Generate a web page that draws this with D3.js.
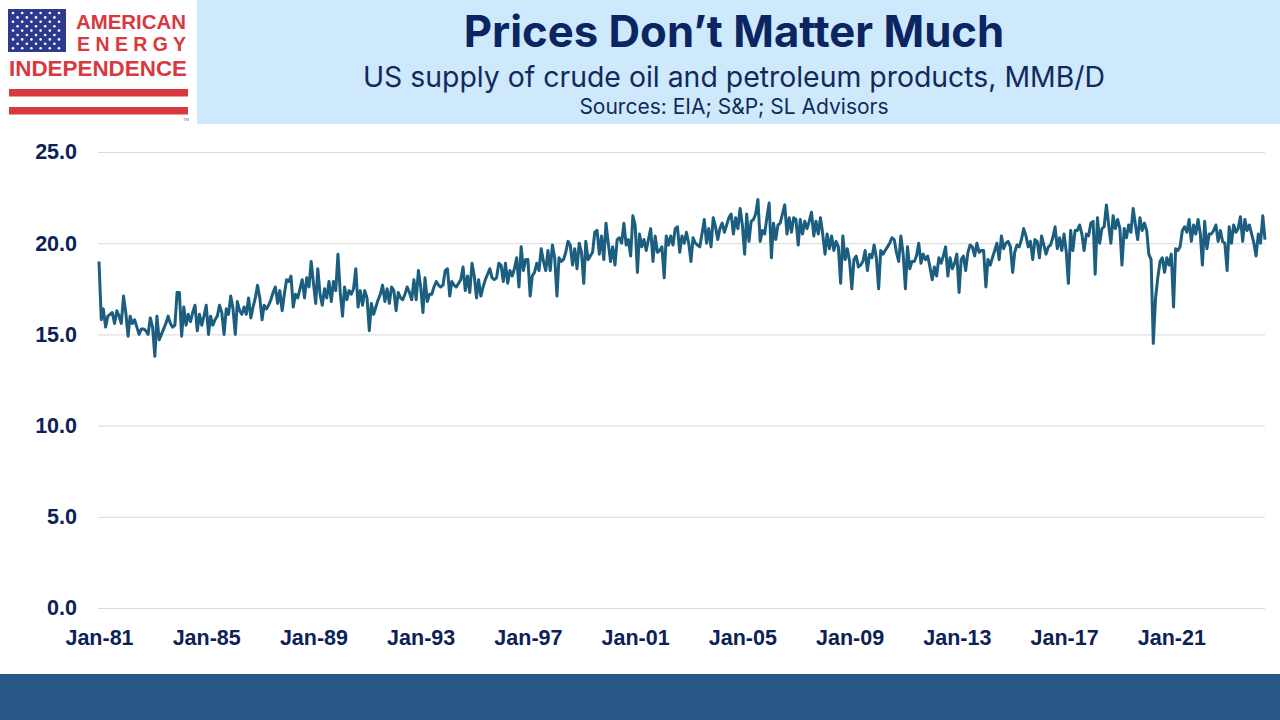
<!DOCTYPE html>
<html>
<head>
<meta charset="utf-8">
<script src="https://cdn.jsdelivr.net/npm/d3@7/dist/d3.min.js"></script>
<style>
  html, body { margin: 0; padding: 0; background: #ffffff; }
  svg { display: block; }
</style>
</head>
<body>
<svg id="chart" width="1280" height="720"></svg>
<script>
// ---------------- DATA ----------------
const title = "Prices Don’t Matter Much";
const subtitle = "US supply of crude oil and petroleum products, MMB/D";
const sources = "Sources: EIA; S&P; SL Advisors";

const startYear = 1981; // first month = Jan 1981, monthly series
const yTickValues = [0, 5, 10, 15, 20, 25];
const xTickYears = [1981, 1985, 1989, 1993, 1997, 2001, 2005, 2009, 2013, 2017, 2021];

// monthly values, MMB/D (Jan..Dec)
const v1981 = [19.0, 15.8, 16.4, 15.4, 16.0, 16.1, 16.2, 15.6, 16.3, 16.0, 15.6, 17.1];
const v1982 = [16.2, 14.9, 16.0, 15.6, 15.8, 15.4, 15.0, 15.3, 15.3, 15.2, 15.0, 15.9];
const v1983 = [15.4, 13.8, 16.0, 14.7, 15.0, 15.3, 15.6, 16.0, 15.6, 15.4, 15.5, 17.3];
const v1984 = [17.3, 14.9, 16.5, 15.5, 16.1, 15.7, 16.2, 16.6, 15.2, 16.1, 15.5, 16.0];
const v1985 = [16.6, 15.0, 16.0, 15.5, 15.8, 16.0, 16.6, 16.2, 15.0, 16.4, 16.1, 17.1];
const v1986 = [16.4, 15.0, 16.8, 16.3, 16.1, 16.5, 16.1, 17.0, 15.9, 16.5, 17.0, 17.7];
const v1987 = [17.0, 15.8, 16.6, 16.4, 16.6, 16.9, 17.3, 17.6, 16.7, 17.4, 16.3, 17.2];
const v1988 = [18.0, 17.9, 18.2, 16.5, 17.2, 17.0, 17.5, 18.0, 17.0, 18.1, 17.6, 19.0];
const v1989 = [17.8, 16.7, 18.6, 17.2, 16.6, 17.5, 17.0, 17.9, 16.8, 17.9, 17.4, 19.4];
const v1990 = [17.3, 16.0, 17.6, 16.9, 17.4, 17.2, 17.5, 18.6, 16.5, 17.4, 16.6, 17.4];
const v1991 = [17.0, 15.2, 16.7, 16.1, 16.5, 16.9, 17.2, 17.7, 16.8, 17.5, 16.7, 17.6];
const v1992 = [17.4, 16.3, 17.3, 17.0, 16.9, 17.2, 17.6, 17.3, 16.9, 18.0, 16.9, 18.5];
const v1993 = [17.6, 16.2, 18.1, 16.8, 17.2, 17.2, 17.6, 17.9, 17.7, 17.6, 17.7, 18.5];
const v1994 = [18.6, 17.1, 17.9, 17.7, 17.6, 17.8, 18.0, 18.7, 17.4, 18.2, 17.3, 18.9];
const v1995 = [18.2, 17.0, 18.0, 17.1, 17.6, 18.0, 18.3, 18.6, 18.1, 18.0, 18.1, 18.9];
const v1996 = [18.8, 17.9, 18.9, 17.8, 18.5, 18.2, 18.6, 19.2, 17.6, 19.8, 18.5, 19.1];
const v1997 = [19.1, 17.1, 18.2, 18.4, 18.9, 18.5, 19.7, 19.0, 18.5, 19.6, 18.5, 19.9];
const v1998 = [19.2, 17.1, 19.2, 19.0, 19.1, 19.5, 20.1, 19.9, 18.8, 19.7, 18.6, 20.0];
const v1999 = [19.5, 17.8, 20.1, 19.1, 19.3, 19.5, 20.6, 20.7, 19.4, 20.4, 19.1, 21.1];
const v2000 = [20.0, 19.0, 19.8, 18.8, 20.2, 20.3, 20.0, 21.1, 19.9, 20.2, 19.3, 21.5];
const v2001 = [21.0, 18.4, 20.5, 19.8, 20.2, 19.6, 20.2, 20.8, 19.0, 20.4, 19.5, 19.6];
const v2002 = [19.8, 18.1, 20.4, 19.9, 20.4, 19.9, 20.8, 20.9, 19.5, 20.4, 20.0, 20.6];
const v2003 = [20.0, 19.0, 20.3, 20.0, 19.9, 19.8, 20.5, 21.3, 20.0, 20.8, 19.8, 21.4];
const v2004 = [20.9, 20.2, 20.8, 21.1, 20.6, 21.0, 21.4, 21.6, 20.5, 21.4, 20.8, 21.9];
const v2005 = [21.0, 19.4, 21.6, 20.1, 21.2, 21.3, 21.6, 22.4, 20.1, 20.7, 20.5, 21.4];
const v2006 = [22.2, 19.2, 21.1, 20.2, 21.0, 21.1, 21.6, 22.1, 20.5, 21.4, 20.6, 21.4];
const v2007 = [21.3, 19.9, 21.3, 20.5, 21.2, 20.8, 21.2, 21.7, 20.4, 21.2, 20.5, 21.4];
const v2008 = [20.5, 19.4, 20.5, 19.7, 20.4, 19.6, 20.1, 19.8, 17.8, 20.4, 19.1, 19.7];
const v2009 = [19.0, 17.5, 19.1, 19.3, 18.7, 18.8, 19.0, 19.6, 18.5, 19.4, 19.2, 19.9];
const v2010 = [19.2, 17.5, 19.6, 19.4, 19.6, 19.8, 20.0, 20.3, 20.2, 19.5, 19.0, 20.4];
const v2011 = [19.4, 17.5, 19.8, 18.6, 19.0, 19.0, 19.3, 20.0, 18.9, 19.4, 19.1, 19.3];
const v2012 = [18.7, 18.0, 18.7, 18.2, 19.2, 18.9, 19.3, 19.8, 18.2, 19.2, 18.6, 18.9];
const v2013 = [19.4, 17.3, 19.1, 19.3, 18.5, 19.5, 19.9, 19.8, 19.3, 20.0, 19.5, 19.6];
const v2014 = [19.6, 17.6, 19.1, 18.8, 19.2, 19.6, 20.0, 19.1, 20.4, 19.7, 20.0, 20.1];
const v2015 = [19.8, 18.4, 19.5, 19.9, 19.8, 20.2, 20.8, 20.4, 19.8, 20.1, 19.1, 20.2];
const v2016 = [20.1, 19.2, 20.4, 19.9, 19.4, 19.8, 19.9, 20.3, 20.9, 19.7, 20.3, 19.6];
const v2017 = [20.5, 19.5, 17.8, 20.7, 19.6, 20.7, 20.7, 21.0, 20.5, 19.6, 20.5, 20.4];
const v2018 = [21.1, 21.2, 18.3, 21.4, 20.0, 20.8, 20.9, 22.1, 21.0, 20.0, 21.5, 20.8];
const v2019 = [21.3, 20.8, 18.8, 20.8, 20.3, 21.0, 20.6, 21.9, 21.0, 20.2, 21.4, 20.7];
const v2020 = [21.1, 20.7, 19.4, 19.1, 14.5, 17.0, 18.1, 19.0, 19.2, 18.4, 19.2, 18.8];
const v2021 = [19.4, 16.5, 19.7, 19.6, 19.8, 20.7, 20.9, 20.6, 21.3, 20.1, 21.0, 20.5];
const v2022 = [21.3, 20.5, 18.8, 21.2, 19.7, 20.5, 20.5, 20.7, 21.0, 20.1, 20.7, 20.1];
const v2023 = [20.0, 18.5, 20.9, 20.0, 21.0, 20.6, 20.8, 21.45, 20.1, 21.3, 20.7, 21.0];
const v2024 = [20.5, 20.0, 19.3, 20.5, 20.0, 21.5, 20.2];

const yearly = [v1981, v1982, v1983, v1984, v1985, v1986, v1987, v1988, v1989, v1990,
  v1991, v1992, v1993, v1994, v1995, v1996, v1997, v1998, v1999, v2000,
  v2001, v2002, v2003, v2004, v2005, v2006, v2007, v2008, v2009, v2010,
  v2011, v2012, v2013, v2014, v2015, v2016, v2017, v2018, v2019, v2020,
  v2021, v2022, v2023, v2024];

const series = [];
yearly.forEach((arr, yi) => arr.forEach((v, mi) => series.push({ date: new Date(startYear + yi, mi, 1), value: v })));

// ---------------- DRAW ----------------
const svg = d3.select("#chart");
const navy = "#0c2257";
const red = "#d8393f";

// header band
svg.append("rect").attr("x", 197).attr("y", 0).attr("width", 1083).attr("height", 124).attr("fill", "#cde9fb");

// logo
const logo = svg.append("g");
logo.append("rect").attr("x", 8).attr("y", 9).attr("width", 58).attr("height", 43).attr("fill", "#2c3a8e");
for (let r = 0; r < 9; r++) {
  const n = r % 2 === 0 ? 6 : 5;
  for (let c = 0; c < n; c++) {
    const cx = 8 + 5 + (r % 2 === 0 ? 0 : 4.6) + c * 9.2;
    const cy = 9 + 4 + r * 4.4;
    logo.append("circle").attr("cx", cx).attr("cy", cy).attr("r", 1.3).attr("fill", "#ffffff");
  }
}
const logoFont = "'Liberation Sans', Arial, sans-serif";
logo.append("text").attr("x", 76).attr("y", 28.5).attr("font-family", logoFont).attr("font-weight", 700)
  .attr("font-size", 20.5).attr("fill", red)
  .attr("textLength", 110).attr("lengthAdjust", "spacingAndGlyphs").text("AMERICAN");
logo.append("text").attr("x", 77).attr("y", 51.3).attr("font-family", logoFont).attr("font-weight", 700)
  .attr("font-size", 20.5).attr("fill", red)
  .attr("textLength", 109).attr("lengthAdjust", "spacingAndGlyphs").text("E N E R G Y");
logo.append("text").attr("x", 9).attr("y", 76.3).attr("font-family", logoFont).attr("font-weight", 700)
  .attr("font-size", 22).attr("fill", red)
  .attr("textLength", 178).attr("lengthAdjust", "spacingAndGlyphs").text("INDEPENDENCE");
logo.append("rect").attr("x", 9).attr("y", 89).attr("width", 179).attr("height", 7.5).attr("fill", red);
logo.append("rect").attr("x", 9).attr("y", 107).attr("width", 179).attr("height", 7.5).attr("fill", red);
logo.append("text").attr("x", 183).attr("y", 121).attr("font-family", logoFont).attr("font-size", 4).attr("fill", "#666").text("TM");

// titles
const hx = 734;
const headFont = "Inter, 'Open Sans', sans-serif";
svg.append("text").attr("x", hx).attr("y", 47).attr("text-anchor", "middle")
  .attr("font-family", headFont).attr("font-weight", 700).attr("font-size", 43.7)
  .attr("fill", "#0b2462").text(title);
svg.append("text").attr("x", hx).attr("y", 86.5).attr("text-anchor", "middle")
  .attr("font-family", headFont).attr("font-weight", 400).attr("font-size", 28.4)
  .attr("fill", "#13295c").text(subtitle);
svg.append("text").attr("x", hx).attr("y", 114).attr("text-anchor", "middle")
  .attr("font-family", headFont).attr("font-weight", 400).attr("font-size", 21)
  .attr("fill", "#13295c").text(sources);

// scales
const x = d3.scaleTime()
  .domain([new Date(startYear, 0, 1), series[series.length - 1].date])
  .range([99, 1265]);
const y = d3.scaleLinear().domain([0, 25]).range([608, 152]);

// y axis with gridlines
const yAxis = d3.axisLeft(y).tickValues(yTickValues).tickFormat(d3.format(".1f")).tickSize(-(1265 - 98)).tickPadding(21);
const gy = svg.append("g").attr("transform", "translate(98,0)").call(yAxis);
gy.select(".domain").remove();
gy.selectAll(".tick line").attr("stroke", "#d9d9d9").attr("stroke-width", 1);
gy.selectAll(".tick text").attr("font-family", "'Liberation Sans', Arial, sans-serif").attr("font-weight", 700)
  .attr("font-size", 21.5).attr("fill", navy);

// x axis
const xTicks = xTickYears.map(yr => new Date(yr, 0, 1));
const xAxis = d3.axisBottom(x).tickValues(xTicks).tickFormat(d3.timeFormat("%b-%y")).tickSize(0).tickPadding(22);
const gx = svg.append("g").attr("transform", "translate(0,608)").call(xAxis);
gx.select(".domain").remove();
gx.selectAll(".tick text").attr("font-family", "'Liberation Sans', Arial, sans-serif").attr("font-weight", 700)
  .attr("font-size", 21.5).attr("fill", navy);

// line
const line = d3.line().x(d => x(d.date)).y(d => y(d.value));
svg.append("path").datum(series).attr("d", line).attr("fill", "none")
  .attr("stroke", "#1b5e80").attr("stroke-width", 3).attr("stroke-linejoin", "round");

// bottom band
svg.append("rect").attr("x", 0).attr("y", 674).attr("width", 1280).attr("height", 46).attr("fill", "#2a5886");
</script>
</body>
</html>
